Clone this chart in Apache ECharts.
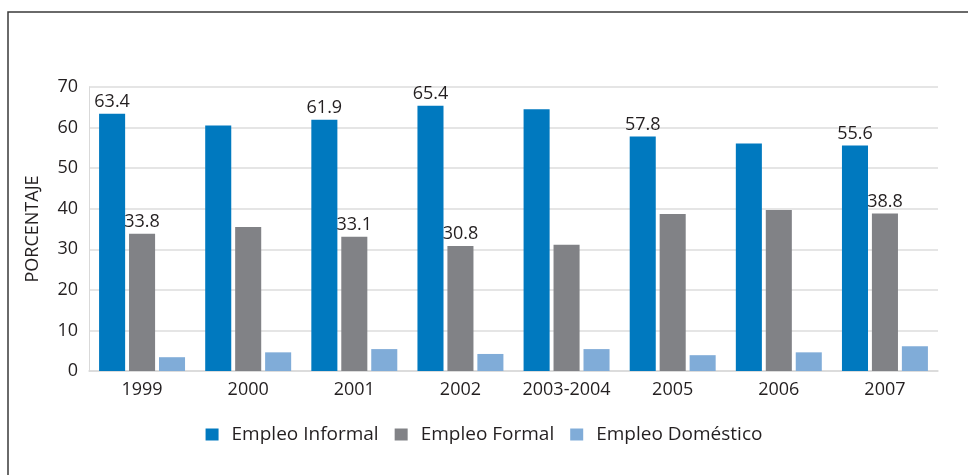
<!DOCTYPE html>
<html>
<head>
<meta charset="utf-8">
<script src="https://cdn.jsdelivr.net/npm/echarts@6/dist/echarts.min.js"></script>
<style>
  html, body { margin: 0; padding: 0; background: #fff; }
  #chart { width: 968px; height: 475px; }
</style>
</head>
<body>
<div id="chart"></div>
<script>
// data
const years = ['1999', '2000', '2001', '2002', '2003-2004', '2005', '2006', '2007'];
const informal = [63.4, 60.5, 61.9, 65.4, 64.5, 57.8, 56.1, 55.6];
const formal = [33.8, 35.5, 33.1, 30.8, 31.1, 38.7, 39.7, 38.8];
const domestico = [3.4, 4.6, 5.4, 4.2, 5.4, 3.9, 4.6, 6.1];
// which bars carry a value label in the original
const informalShown = [true, false, true, true, false, true, false, true];
const formalShown = [true, false, true, true, false, false, false, true];

const txt = '#231f20';
const font = 'Open Sans';

function withLabels(values, shown) {
  return values.map((v, i) => ({
    value: v,
    label: { show: shown[i] }
  }));
}

const barLabel = {
  position: 'top',
  distance: 3,
  color: txt,
  fontFamily: font,
  fontSize: 18
};

const chart = echarts.init(document.getElementById('chart'));
chart.setOption({
  animation: false,
  textStyle: { fontFamily: font },
  graphic: [{
    type: 'polyline',
    shape: { points: [[8, 480], [8, 12], [975, 12]] },
    style: { stroke: '#3a3a3a', lineWidth: 1.5, fill: null }
  }],
  grid: { left: 89, right: 30, top: 87, bottom: 104 },
  legend: {
    bottom: 26,
    left: 'center',
    itemWidth: 13,
    itemHeight: 12,
    itemGap: 16,
    icon: 'rect',
    textStyle: { color: txt, fontSize: 19, fontFamily: font, padding: [0, 0, 0, 8] },
    data: ['Empleo Informal', 'Empleo Formal', 'Empleo Doméstico']
  },
  xAxis: {
    type: 'category',
    data: years,
    axisLine: { lineStyle: { color: '#d9d9d9', width: 1.5 } },
    axisTick: { show: false },
    axisLabel: { interval: 0, color: txt, fontSize: 18, fontFamily: font, margin: 10 }
  },
  yAxis: {
    type: 'value',
    min: 0,
    max: 70,
    interval: 10,
    name: 'PORCENTAJE',
    nameLocation: 'middle',
    nameGap: 47,
    nameTextStyle: { color: txt, fontSize: 18, fontFamily: font },
    axisLine: { show: true, lineStyle: { color: '#d9d9d9' } },
    axisTick: { show: false },
    axisLabel: { color: txt, fontSize: 18, fontFamily: font, margin: 11 },
    splitLine: { lineStyle: { color: '#dcdcdc', width: 1.5 } }
  },
  series: [
    {
      name: 'Empleo Informal',
      type: 'bar',
      barGap: '15%',
      barCategoryGap: '19%',
      itemStyle: { color: '#0079bf' },
      label: barLabel,
      data: withLabels(informal, informalShown)
    },
    {
      name: 'Empleo Formal',
      type: 'bar',
      itemStyle: { color: '#818286' },
      label: barLabel,
      data: withLabels(formal, formalShown)
    },
    {
      name: 'Empleo Doméstico',
      type: 'bar',
      itemStyle: { color: '#80acd8' },
      data: domestico
    }
  ]
});
</script>
</body>
</html>
